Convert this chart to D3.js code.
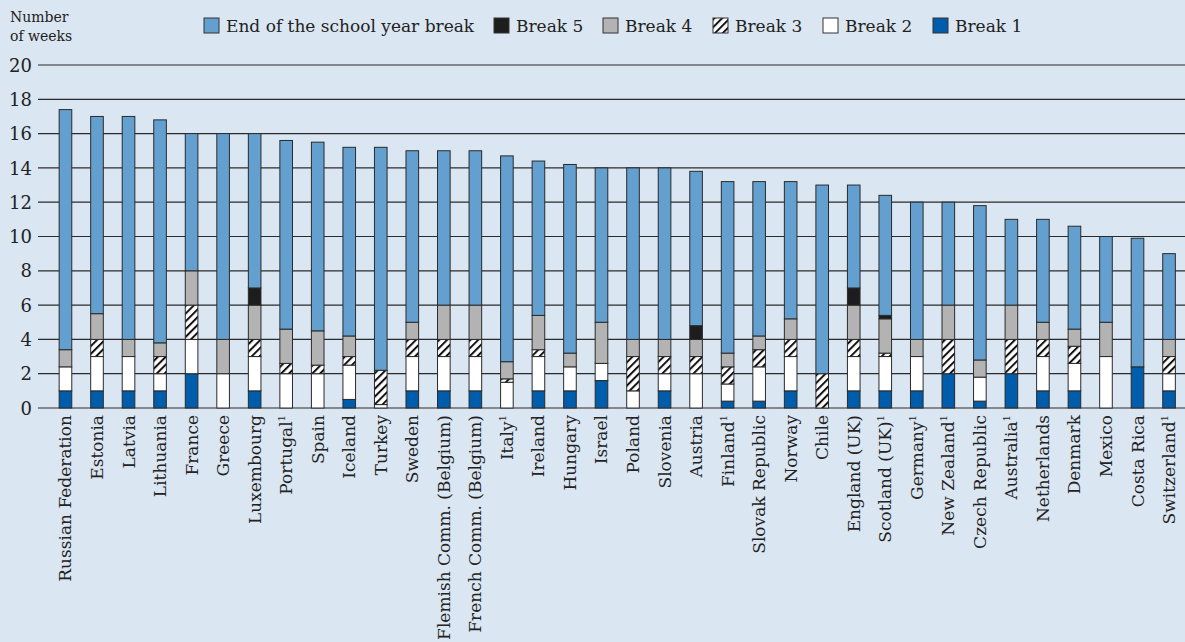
<!DOCTYPE html>
<html>
<head>
<meta charset="utf-8">
<script src="https://cdn.jsdelivr.net/npm/d3@7"></script>
<style>
  html, body { margin: 0; padding: 0; background: #dae6f1; }
  svg { display: block; }
  text { font-family: "DejaVu Serif", "Liberation Serif", serif; fill: #222; }
</style>
</head>
<body>
<svg id="chart" width="1185" height="642"></svg>
<script>
// ---- data ----
const countries = ["Russian Federation","Estonia","Latvia","Lithuania","France","Greece","Luxembourg","Portugal","Spain","Iceland","Turkey","Sweden","Flemish Comm. (Belgium)","French Comm. (Belgium)","Italy","Ireland","Hungary","Israel","Poland","Slovenia","Austria","Finland","Slovak Republic","Norway","Chile","England (UK)","Scotland (UK)","Germany","New Zealand","Czech Republic","Australia","Netherlands","Denmark","Mexico","Costa Rica","Switzerland"];
const footnote1 = ["Portugal","Italy","Finland","Scotland (UK)","Germany","New Zealand","Australia","Switzerland"];
const break1 = [1,1,1,1,2,0,1,0,0,0.5,0,1,1,1,0,1,1,1.6,0,1,0,0.4,0.4,1,0,1,1,1,2,0.4,2,1,1,0,2.4,1];
const break2 = [1.4,2,2,1,2,2,2,2,2,2,0.2,2,2,2,1.5,2,1.4,1,1,1,2,1,2,2,0,2,2,2,0,1.4,0,2,1.6,3,0,1];
const break3 = [0,1,0,1,2,0,1,0.6,0.5,0.5,2,1,1,1,0.2,0.4,0,0,2,1,1,1,1,1,2,1,0.2,0,2,0,2,1,1,0,0,1];
const break4 = [1,1.5,1,0.8,2,2,2,2,2,1.2,0,1,2,2,1,2,0.8,2.4,1,1,1,0.8,0.8,1.2,0,2,2,1,2,1,2,1,1,2,0,1];
const break5 = [0,0,0,0,0,0,1,0,0,0,0,0,0,0,0,0,0,0,0,0,0.8,0,0,0,0,1,0.2,0,0,0,0,0,0,0,0,0];
const endOfYear = [14,11.5,13,13,8,12,9,11,11,11,13,10,9,9,12,9,11,9,10,10,9,10,9,8,11,6,7,8,6,9,5,6,6,5,7.5,5];
const yTicks = [0,2,4,6,8,10,12,14,16,18,20];
const seriesKeys = ["break1","break2","break3","break4","break5","end"];
const seriesNames = {end:"End of the school year break", break5:"Break 5", break4:"Break 4", break3:"Break 3", break2:"Break 2", break1:"Break 1"};
const legendOrder = ["end","break5","break4","break3","break2","break1"];

// ---- build table ----
const rows = countries.map((c,i) => ({country:c, break1:break1[i], break2:break2[i], break3:break3[i], break4:break4[i], break5:break5[i], end:endOfYear[i]}));
const stacked = d3.stack().keys(seriesKeys)(rows);

const svg = d3.select("#chart");
const W = 1185, H = 642;

const defs = svg.append("defs");
const pat = defs.append("pattern").attr("id","hatch").attr("patternUnits","userSpaceOnUse")
  .attr("width",5.5).attr("height",5.5).attr("patternTransform","rotate(45)");
pat.append("rect").attr("width",5.5).attr("height",5.5).attr("fill","#fff");
pat.append("line").attr("x1",1).attr("y1",0).attr("x2",1).attr("y2",5.5).attr("stroke","#111").attr("stroke-width",2);

const fills = {end:"#64a0cf", break5:"#1d1d1d", break4:"#b3b3b3", break3:"url(#hatch)", break2:"#ffffff", break1:"#005dab"};

const x = d3.scaleBand().domain(countries).range([49.7, 1184.8]).paddingInner(0.6).paddingOuter(0.3);
const y = d3.scaleLinear().domain([0,20]).range([408,65]);

// gridlines
const grid = svg.append("g");
grid.selectAll("line").data(yTicks).join("line")
  .attr("x1",38).attr("x2",W).attr("y1",d=>y(d)).attr("y2",d=>y(d))
  .attr("stroke","#2b2b2b").attr("stroke-width",1.2);

// y axis labels
const yAxis = d3.axisLeft(y).tickValues(yTicks).tickSize(0).tickPadding(0);
const yg = svg.append("g").attr("transform","translate(32,0)").call(yAxis);
yg.select(".domain").remove();
yg.selectAll("text").attr("font-size",18).attr("font-family","DejaVu Serif, serif").attr("fill","#222").attr("dy","0.34em");

// axis title
svg.append("text").attr("x",10).attr("y",22).attr("font-size",14).attr("fill","#444").text("Number");
svg.append("text").attr("x",10).attr("y",41).attr("font-size",14).attr("fill","#444").text("of weeks");

// bars
const layers = svg.append("g").selectAll("g").data(stacked).join("g");
layers.selectAll("rect").data(d => d.map(v => ({key:d.key, v}))).join("rect")
  .filter(d => d.v[1] - d.v[0] > 0)
  .attr("x", d => x(d.v.data.country))
  .attr("width", x.bandwidth())
  .attr("y", d => y(d.v[1]))
  .attr("height", d => y(d.v[0]) - y(d.v[1]))
  .attr("fill", d => fills[d.key])
  .attr("stroke","#2a2a2a").attr("stroke-width",1);

// x labels
const xl = svg.append("g");
countries.forEach(c => {
  const cx = x(c) + x.bandwidth()/2;
  const t = xl.append("text")
    .attr("transform", `translate(${cx+6},415) rotate(-90)`)
    .attr("text-anchor","end").attr("font-size",17).attr("fill","#222");
  t.append("tspan").text(c);
  if (footnote1.includes(c)) {
    t.append("tspan").attr("font-size",10).attr("dy","-0.7em").text("1");
  }
});

// legend
const legX = {end:204, break5:494, break4:603, break3:713, break2:823, break1:933};
const lg = svg.append("g");
legendOrder.forEach(k => {
  lg.append("rect").attr("x",legX[k]).attr("y",18).attr("width",15).attr("height",15)
    .attr("fill",fills[k]).attr("stroke","#333").attr("stroke-width",1);
  lg.append("text").attr("x",legX[k]+22).attr("y",32).attr("font-size",17).attr("fill","#222").text(seriesNames[k]);
});
</script>
</body>
</html>
